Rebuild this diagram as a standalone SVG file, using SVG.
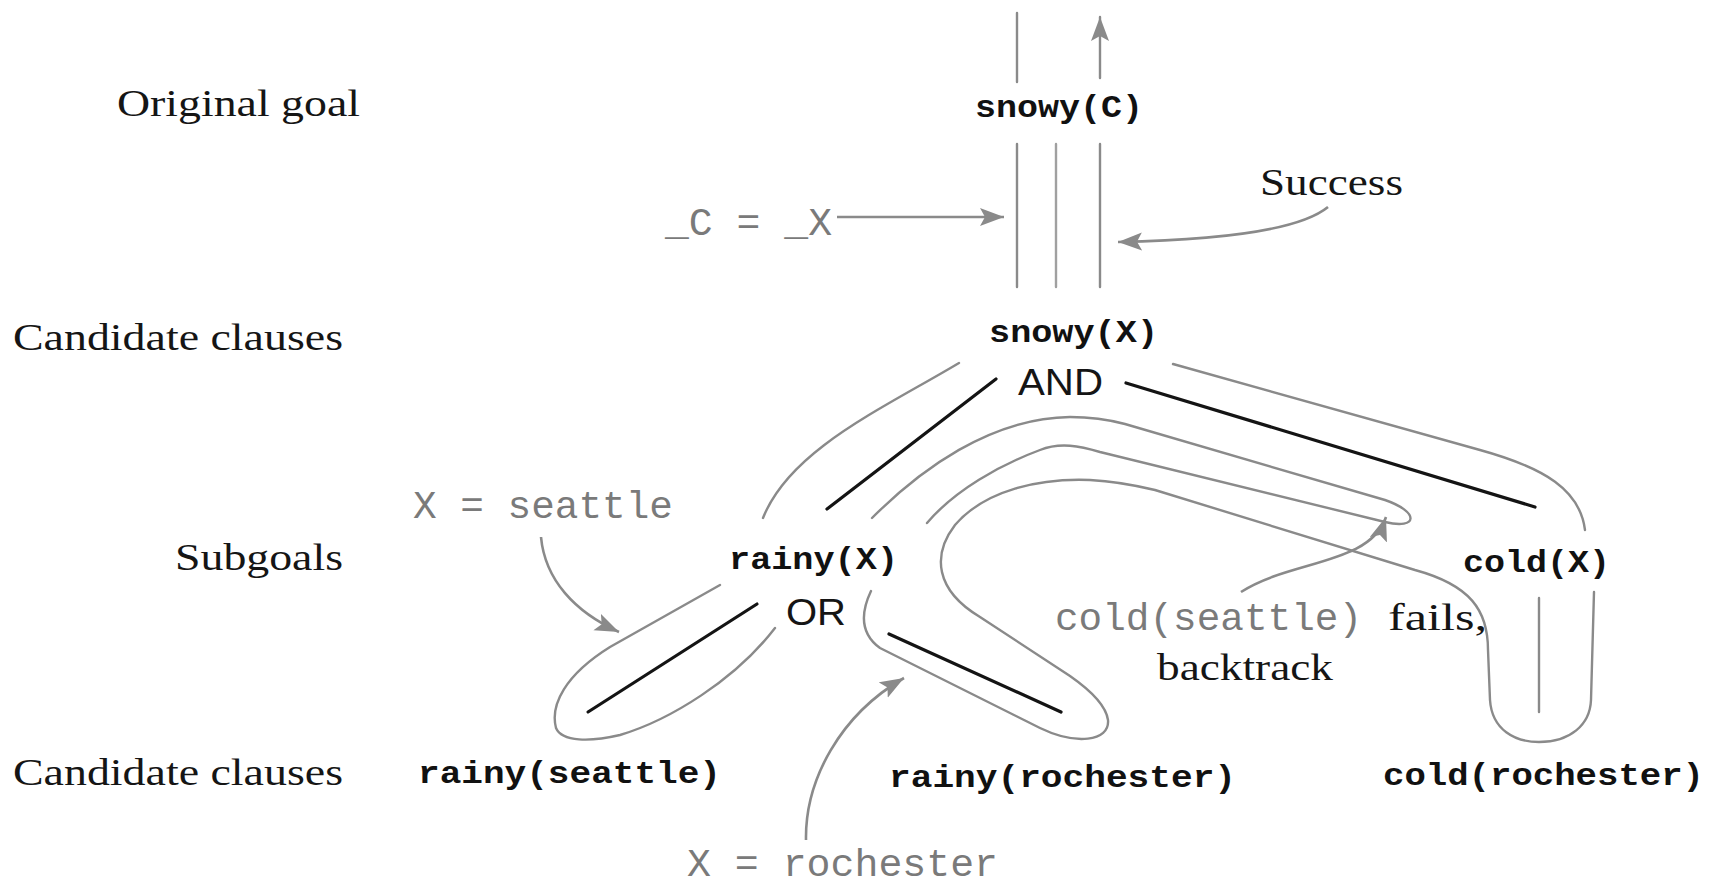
<svg xmlns="http://www.w3.org/2000/svg" width="1719" height="888" viewBox="0 0 1719 888">
<style>
.lbl{font-family:"Liberation Serif","Times New Roman",serif;font-size:37px;fill:#151515}
.node{font-family:"Liberation Mono","Courier New",monospace;font-weight:bold;font-size:32px;fill:#111}
.note{font-family:"Liberation Mono","Courier New",monospace;font-size:38px;fill:#7a7a7a}
.op{font-family:"Liberation Sans",Arial,sans-serif;font-size:37px;fill:#151515}
.trace{fill:none;stroke:#8a8a8a;stroke-width:2.4;stroke-linecap:round;stroke-linejoin:round}
.edge{fill:none;stroke:#141414;stroke-width:3.2;stroke-linecap:round}
.arr{fill:none;stroke:#8a8a8a;stroke-width:2.6;marker-end:url(#ah)}
</style>
<defs>
<marker id="ah" markerUnits="userSpaceOnUse" markerWidth="26" markerHeight="20" refX="24" refY="9" orient="auto">
<path d="M0,0 L24,9 L0,18 L5,9 z" fill="#8a8a8a"/>
</marker>
</defs>

<g id="row-labels">
<text class="lbl" x="117" y="116" textLength="243" lengthAdjust="spacingAndGlyphs">Original goal</text>
<text class="lbl" x="13" y="350" textLength="330" lengthAdjust="spacingAndGlyphs">Candidate clauses</text>
<text class="lbl" x="175" y="570" textLength="168" lengthAdjust="spacingAndGlyphs">Subgoals</text>
<text class="lbl" x="13" y="785" textLength="330" lengthAdjust="spacingAndGlyphs">Candidate clauses</text>
</g>

<g id="node-snowyC"><text class="node" x="975" y="117" textLength="168" lengthAdjust="spacingAndGlyphs">snowy(C)</text></g>
<g id="node-snowyX"><text class="node" x="989" y="342" textLength="169" lengthAdjust="spacingAndGlyphs">snowy(X)</text>
<text class="op" x="1018" y="395" textLength="85" lengthAdjust="spacingAndGlyphs">AND</text></g>
<g id="node-rainyX"><text class="node" x="729" y="569" textLength="169" lengthAdjust="spacingAndGlyphs">rainy(X)</text>
<text class="op" x="786" y="625" textLength="60" lengthAdjust="spacingAndGlyphs">OR</text></g>
<g id="node-coldX"><text class="node" x="1463" y="572" textLength="147" lengthAdjust="spacingAndGlyphs">cold(X)</text></g>
<g id="node-rainySeattle"><text class="node" x="418" y="783" textLength="303" lengthAdjust="spacingAndGlyphs">rainy(seattle)</text></g>
<g id="node-rainyRochester"><text class="node" x="889" y="787" textLength="347" lengthAdjust="spacingAndGlyphs">rainy(rochester)</text></g>
<g id="node-coldRochester"><text class="node" x="1383" y="785" textLength="321" lengthAdjust="spacingAndGlyphs">cold(rochester)</text></g>

<g id="annotations">
<text class="note" x="665" y="235" textLength="167" lengthAdjust="spacingAndGlyphs">_C = _X</text>
<text class="lbl" x="1260" y="195" textLength="143" lengthAdjust="spacingAndGlyphs">Success</text>
<text class="note" x="413" y="518" textLength="260" lengthAdjust="spacingAndGlyphs">X = seattle</text>
<text class="note" x="1055" y="630" textLength="307" lengthAdjust="spacingAndGlyphs">cold(seattle)</text>
<text class="lbl" x="1388" y="630" textLength="99" lengthAdjust="spacingAndGlyphs">fails,</text>
<text class="lbl" x="1157" y="680" textLength="176" lengthAdjust="spacingAndGlyphs">backtrack</text>
<text class="note" x="687" y="876" font-size="35" textLength="311" lengthAdjust="spacingAndGlyphs">X = rochester</text>
</g>

<g id="connectors">
<!-- tree edges -->
<path class="edge" d="M996,379 L827,509"/>
<path class="edge" d="M1126,383 L1535,507"/>
<path class="edge" d="M757,604 L588,712"/>
<path class="edge" d="M889,634 L1061,712"/>
<!-- search trace -->
<path class="trace" d="M1017,13 V82"/>
<path class="trace" d="M1100,78 V17" style="marker-end:url(#ah)"/>
<path class="trace" d="M1017,144 V287"/>
<path class="trace" d="M1056,144 V287" style="stroke:#a0a0a0"/>
<path class="trace" d="M1100,144 V287"/>
<path class="trace" d="M959,363 C880,410 790,450 763,518"/>
<path class="trace" d="M1173,364 L1480,450 C1545,468 1580,490 1585,530"/>
<path class="trace" d="M720,585 L610,647 C565,675 550,705 556,728 C562,742 590,742 620,735 C670,720 735,680 775,628"/>
<path class="trace" d="M872,518 C920,470 990,418 1070,417 C1090,417 1110,420 1125,424 L1385,500 C1420,512 1418,530 1385,522 L1100,452 C1080,446 1060,442 1040,450 C1000,465 955,490 927,523"/>
<path class="trace" d="M871,591 C862,610 858,632 880,648 L1040,728 C1075,745 1110,742 1108,720 C1106,705 1090,690 1070,676 L980,617 C935,590 932,555 955,525 C985,490 1040,478 1090,480 C1110,481 1130,484 1155,490 L1415,570 C1470,585 1488,610 1488,650 L1490,700 C1492,730 1515,742 1539,742 C1570,742 1590,725 1591,700 L1594,592"/>
<path class="trace" d="M1539,598 V712"/>
<!-- annotation arrows -->
<path class="arr" d="M837,217 H1004"/>
<path class="arr" d="M1328,207 C1300,230 1220,240 1118,242"/>
<path class="arr" d="M541,537 C545,580 575,612 619,632"/>
<path class="arr" d="M806,840 C805,780 840,715 904,678"/>
<path class="arr" d="M1241,592 C1290,560 1370,565 1386,517"/>
</g>
</svg>
